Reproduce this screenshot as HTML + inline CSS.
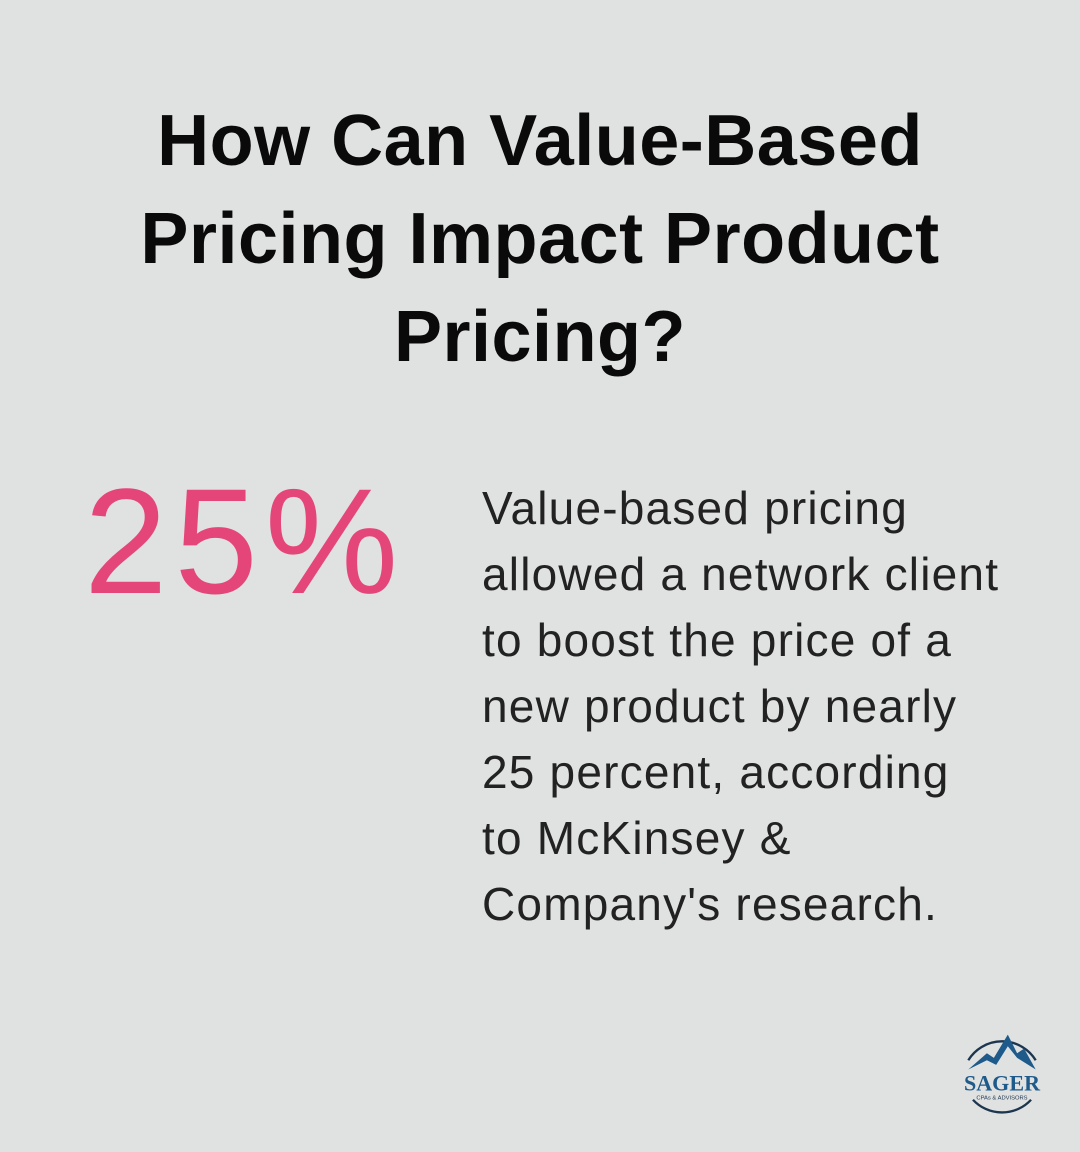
<!DOCTYPE html>
<html><head><meta charset="utf-8"><style>
body{margin:0;width:1080px;height:1152px;background:#e0e2e1;position:relative;overflow:hidden;font-family:"Liberation Sans",sans-serif}
.t{position:absolute;left:0;width:1080px;text-align:center;font-weight:bold;font-size:72px;color:#0a0a0a;line-height:98px;letter-spacing:0.5px}
.big{position:absolute;left:84px;top:466px;font-size:150px;color:#e5467a;letter-spacing:7px;line-height:1}
.b{position:absolute;left:482px;top:475px;font-size:46px;line-height:66px;color:#222;letter-spacing:1.2px;white-space:nowrap}
</style></head><body>
<div class="t" style="top:92px">How Can Value-Based<br>Pricing Impact Product<br>Pricing?</div>
<div class="big">25%</div>
<div class="b">Value-based pricing<br>allowed a network client<br>to boost the price of a<br>new product by nearly<br>25 percent, according<br>to McKinsey &amp;<br>Company's research.</div>
<svg style="position:absolute;left:952px;top:1030px" width="100" height="86" viewBox="0 0 86 74">
<path d="M14 26 A34 34 0 0 1 72 26" fill="none" stroke="#1d3650" stroke-width="2"/>
<path d="M18 60 A34 34 0 0 0 68 60" fill="none" stroke="#1d3650" stroke-width="2"/>
<path d="M14 34 L30 20 L36 24 L48 4 L56 20 L62 16 L72 34 L56 24 L48 14 L38 30 L30 26 Z" fill="#1e5a8a"/>
<text x="43" y="52" text-anchor="middle" font-family="Liberation Serif,serif" font-size="19" font-weight="bold" fill="#1e5a8a">SAGER</text>
<text x="43" y="60" text-anchor="middle" font-family="Liberation Sans,sans-serif" font-size="5" fill="#1d3650">CPAs &amp; ADVISORS</text>
</svg>
</body></html>
